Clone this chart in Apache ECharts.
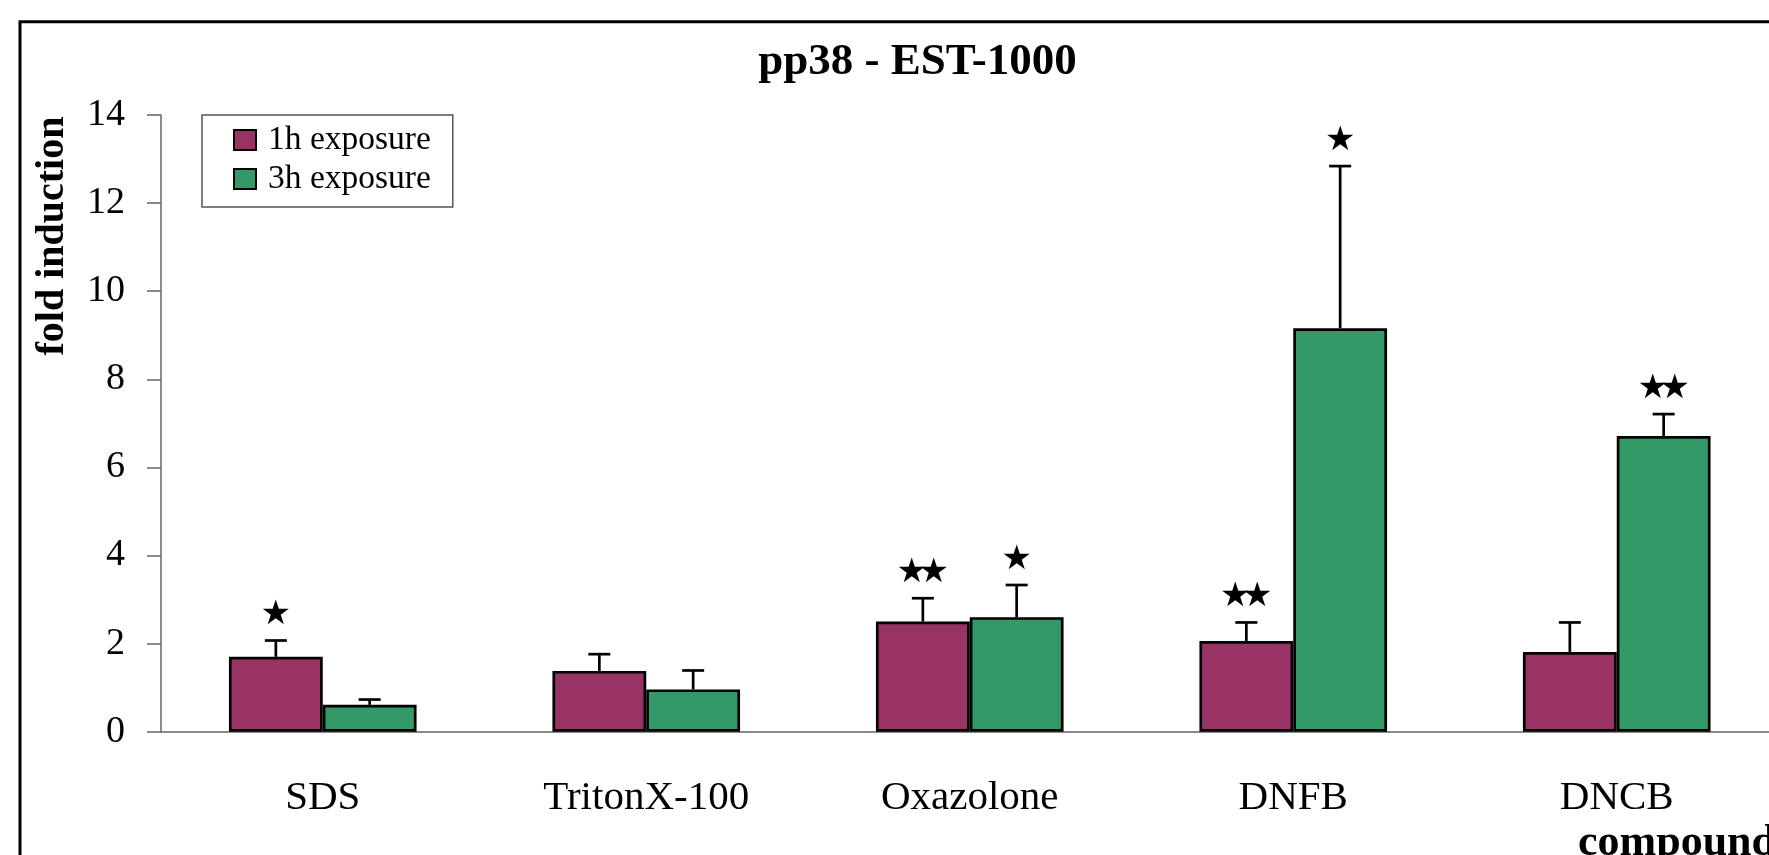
<!DOCTYPE html>
<html>
<head>
<meta charset="utf-8">
<script src="https://cdn.jsdelivr.net/npm/echarts@6/dist/echarts.min.js"></script>
<style>
  html, body { margin: 0; padding: 0; background: #fff; overflow: hidden; }
  #chart { width: 1800px; height: 855px; }
</style>
</head>
<body>
<div id="chart"></div>
<script>
const categories = ['SDS', 'TritonX-100', 'Oxazolone', 'DNFB', 'DNCB'];
const yTicks = [0, 2, 4, 6, 8, 10, 12, 14];

// mean fold induction and top of the error bar
const exp1h = [1.70, 1.38, 2.50, 2.06, 1.81];
const exp1hTop = [2.07, 1.76, 3.03, 2.48, 2.48];
const exp3h = [0.61, 0.96, 2.60, 9.16, 6.71];
const exp3hTop = [0.73, 1.39, 3.33, 12.84, 7.21];

// number of significance stars above each bar
const stars1h = [1, 0, 2, 2, 0];
const stars3h = [0, 0, 1, 1, 2];

const serif = '"Liberation Serif", "Times New Roman", serif';
const maroon = '#993366';
const green = '#339966';

function errorSeries(name, bars, tops, stars, side) {
  return {
    type: 'custom',
    name: name,
    z: 5,
    silent: true,
    data: tops.map((t, i) => [i, t]),
    renderItem(params, api) {
      const i = api.value(0);
      const catW = api.size([1, 0])[0];
      const base = api.coord([i, bars[i]]);
      const top = api.coord([i, api.value(1)]);
      const x = base[0] + (side === 0 ? -1 : 1) * catW * 0.145;
      const style = { stroke: '#000', lineWidth: 2.7 };
      const children = [
        { type: 'line', shape: { x1: x, y1: base[1], x2: x, y2: top[1] }, style },
        { type: 'line', shape: { x1: x - 11, y1: top[1], x2: x + 11, y2: top[1] }, style }
      ];
      const n = stars[i];
      for (let k = 0; k < n; k++) {
        children.push({
          type: 'text',
          style: {
            text: '★', x: x + (k - (n - 1) / 2) * 22, y: top[1] - 25,
            align: 'center', verticalAlign: 'middle',
            font: '34px "DejaVu Sans"', fill: '#000'
          }
        });
      }
      return { type: 'group', children };
    }
  };
}

const chart = echarts.init(document.getElementById('chart'));
chart.setOption({
  animation: false,
  backgroundColor: '#fff',
  grid: { left: 161, right: 21.5, top: 115, bottom: 123.3, containLabel: false },
  legend: {
    data: ['1h exposure', '3h exposure'],
    orient: 'vertical',
    left: 202, top: 115,
    padding: [8, 22, 11, 31],
    itemWidth: 22, itemHeight: 20, itemGap: 5,
    icon: 'rect',
    borderColor: '#555', borderWidth: 1.5,
    textStyle: { fontFamily: serif, fontSize: 33.5, color: '#000', lineHeight: 32, padding: [0, 0, 0, 7] }
  },
  xAxis: {
    type: 'category',
    data: categories,
    axisLine: { lineStyle: { color: '#666', width: 1.5 } },
    axisTick: { length: 13, lineStyle: { color: '#666', width: 1.5 } },
    axisLabel: { fontFamily: serif, fontSize: 41, color: '#000', margin: 67, verticalAlign: 'middle' }
  },
  yAxis: {
    type: 'value',
    min: 0, max: 14, interval: 2,
    splitLine: { show: false },
    axisLine: { show: true, lineStyle: { color: '#666', width: 1.5 } },
    axisTick: { show: true, length: 14, lineStyle: { color: '#666', width: 1.5 } },
    axisLabel: {
      fontFamily: serif, fontSize: 38, color: '#000', margin: 36,
      formatter: v => yTicks.includes(v) ? String(v) : ''
    }
  },
  series: [
    {
      name: '1h exposure', type: 'bar', data: exp1h,
      barWidth: '29%', barGap: '0%',
      itemStyle: { color: maroon, borderColor: '#000', borderWidth: 2.7 }
    },
    {
      name: '3h exposure', type: 'bar', data: exp3h,
      barWidth: '29%', barGap: '0%',
      itemStyle: { color: green, borderColor: '#000', borderWidth: 2.7 }
    },
    errorSeries('1h error', exp1h, exp1hTop, stars1h, 0),
    errorSeries('3h error', exp3h, exp3hTop, stars3h, 1)
  ],
  graphic: [
    {
      type: 'rect', silent: true, z: -1,
      shape: { x: 20, y: 21.7, width: 1800, height: 900 },
      style: { fill: 'none', stroke: '#000', lineWidth: 3 }
    },
    {
      type: 'text', silent: true,
      style: {
        text: 'pp38 - EST-1000', x: 917.5, y: 62,
        align: 'center', verticalAlign: 'middle',
        font: 'bold 45px "Liberation Serif"', fill: '#000'
      }
    },
    {
      type: 'text', silent: true,
      x: 53, y: 236, rotation: Math.PI / 2,
      style: {
        text: 'fold induction', x: 0, y: 0,
        align: 'center', verticalAlign: 'middle',
        font: 'bold 40px "Liberation Serif"', fill: '#000'
      }
    },
    {
      type: 'text', silent: true,
      style: {
        text: 'compound', x: 1578, y: 844,
        align: 'left', verticalAlign: 'middle',
        font: 'bold 44px "Liberation Serif"', fill: '#000'
      }
    }
  ]
});
</script>
</body>
</html>
